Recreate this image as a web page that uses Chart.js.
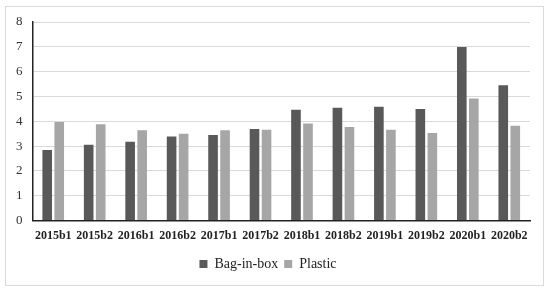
<!DOCTYPE html>
<html>
<head>
<meta charset="utf-8">
<script src="https://cdn.jsdelivr.net/npm/chart.js@4/dist/chart.umd.min.js"></script>
<style>
html,body{margin:0;padding:0;background:#fff;}
#frame{position:absolute;left:5px;top:6px;width:539px;height:280px;border:1px solid #d9d9d9;box-sizing:border-box;}
#wrap{position:absolute;left:0;top:0;width:550px;height:291px;}
</style>
</head>
<body>
<div id="frame"></div>
<div id="wrap"><canvas id="c" width="550" height="291"></canvas></div>
<script>
const categories = ["2015b1","2015b2","2016b1","2016b2","2017b1","2017b2","2018b1","2018b2","2019b1","2019b2","2020b1","2020b2"];
const bagInBox = [2.84, 3.06, 3.18, 3.39, 3.45, 3.69, 4.47, 4.55, 4.59, 4.50, 6.99, 5.45];
const plastic  = [3.97, 3.88, 3.64, 3.50, 3.64, 3.66, 3.91, 3.77, 3.66, 3.53, 4.92, 3.82];
const yTicks = [0,1,2,3,4,5,6,7,8];

new Chart(document.getElementById('c'), {
  type: 'bar',
  data: {
    labels: categories,
    datasets: [
      {label: 'Bag-in-box', data: bagInBox, backgroundColor: '#595959', barPercentage: 0.8, categoryPercentage: 0.58},
      {label: 'Plastic', data: plastic, backgroundColor: '#a6a6a6', barPercentage: 0.8, categoryPercentage: 0.58}
    ]
  },
  options: {
    responsive: false,
    animation: false,
    devicePixelRatio: 1,
    layout: {padding: {left: 6, right: 20, top: 22, bottom: 10}},
    plugins: {
      legend: {
        position: 'bottom',
        labels: {
          font: {family: 'Liberation Serif', size: 14},
          color: '#222',
          boxWidth: 8, boxHeight: 8,
          padding: 6
        }
      },
      tooltip: {enabled: false}
    },
    scales: {
      x: {
        grid: {display: false, drawTicks: false},
        border: {display: true, color: '#222', width: 1.5},
        ticks: {font: {family: 'Liberation Serif', size: 12, weight: 'bold'}, color: '#222', maxRotation: 0, padding: 8}
      },
      y: {
        min: 0, max: 8,
        afterBuildTicks: (ax) => { ax.ticks = yTicks.map(v => ({value: v})); },
        grid: {color: '#d9d9d9', drawTicks: false},
        border: {display: true, color: '#222', width: 1.5},
        ticks: {font: {family: 'Liberation Serif', size: 13}, color: '#333', padding: 10}
      }
    }
  }
});
</script>
</body>
</html>
